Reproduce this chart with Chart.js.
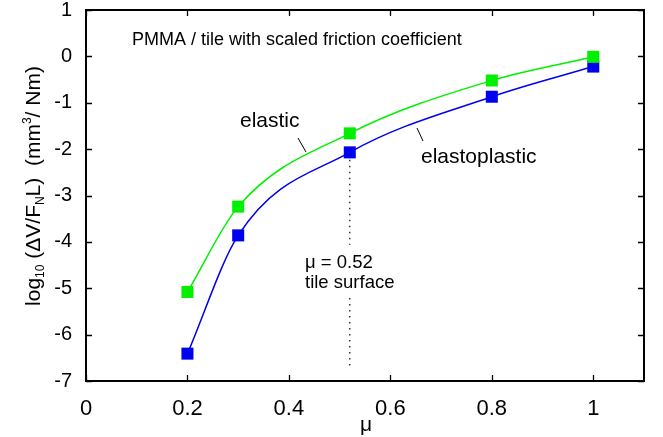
<!DOCTYPE html>
<html>
<head>
<meta charset="utf-8">
<script src="https://cdn.jsdelivr.net/npm/chart.js@4.4.0/dist/chart.umd.min.js"></script>
<style>
  html,body{margin:0;padding:0;background:#fff;}
  #wrap{width:663px;height:437px;position:relative;}
</style>
</head>
<body>
<div id="wrap"><canvas id="c" width="663" height="437"></canvas></div>
<script>
// 數據
const mu            = [0.2, 0.3, 0.52, 0.8, 1.0];
const elastic       = [-5.08, -3.24, -1.66, -0.52, -0.01];
const elastoplastic = [-6.41, -3.86, -2.07, -0.87, -0.22];
const xTicks = [0, 0.2, 0.4, 0.6, 0.8, 1];
const yTicks = [1, 0, -1, -2, -3, -4, -5, -6, -7];
const markMu = 0.52;
const markTop = [-2.23, -4.06];     // 虛線上段
const markBot = [-5.21, -6.72];     // 虛線下段

const FONT = 'Arial, "Liberation Sans", sans-serif';
const pts = ys => mu.map((x,i)=>({x, y:ys[i]}));

// 框線、內向刻度、註解文字
const deco = {
  id:'deco',
  afterDraw(ch){
    const c = ch.ctx, a = ch.chartArea, sx = ch.scales.x, sy = ch.scales.y;
    c.save();
    c.strokeStyle = '#000'; c.lineWidth = 2;
    c.strokeRect(a.left, a.top, a.right-a.left, a.bottom-a.top);
    c.lineWidth = 1.3;
    xTicks.forEach(v=>{
      const px = Math.round(sx.getPixelForValue(v))+0.5;
      c.beginPath(); c.moveTo(px,a.bottom); c.lineTo(px,a.bottom-6);
      c.moveTo(px,a.top); c.lineTo(px,a.top+6); c.stroke();
    });
    yTicks.forEach(v=>{
      const py = Math.round(sy.getPixelForValue(v))+0.5;
      c.beginPath(); c.moveTo(a.left,py); c.lineTo(a.left+6,py);
      c.moveTo(a.right,py); c.lineTo(a.right-6,py); c.stroke();
    });

    // 文字
    c.fillStyle = '#000'; c.textBaseline = 'alphabetic'; c.textAlign = 'left';
    c.font = '18px ' + FONT;
    c.fillText('PMMA / tile with scaled friction coefficient', 132, 45);
    c.font = '21px ' + FONT;
    c.fillText('elastic', 240, 127);
    c.fillText('elastoplastic', 421, 163);
    c.font = '18.5px ' + FONT;
    c.fillText('\u03bc = 0.52', 305, 268);
    c.fillText('tile surface', 305, 288);

    // 引線
    c.lineWidth = 1; c.strokeStyle = '#000';
    c.beginPath(); c.moveTo(298,138); c.lineTo(306,152); c.stroke();
    c.beginPath(); c.moveTo(417,128); c.lineTo(423,141); c.stroke();

    // x 軸標題
    c.font = '21px ' + FONT; c.textAlign = 'center';
    c.fillText('\u03bc', 366, 431);

    // y 軸標題（含上下標）
    const parts = [
      ['log','n'],['10','sub'],[' (\u0394V/F','n'],['N','sub'],['L)  (mm','n'],['3','sup'],['/ Nm)','n']
    ];
    const big = '21px ' + FONT, small = '12px ' + FONT;
    let w = 0;
    parts.forEach(([t,k])=>{ c.font = k==='n'?big:small; w += c.measureText(t).width; });
    c.translate(40, 186); c.rotate(-Math.PI/2);
    let x = -w/2; c.textAlign = 'left';
    parts.forEach(([t,k])=>{
      c.font = k==='n'?big:small;
      const dy = k==='sub'?4:(k==='sup'?-9:0);
      c.fillText(t, x, dy);
      x += c.measureText(t).width;
    });
    c.restore();
  }
};

const line = (data,col)=>({
  data, borderColor:col, backgroundColor:col, borderWidth:1.5,
  pointStyle:'rect', pointRadius:8.5, pointHoverRadius:8.5, pointBorderWidth:0,
  cubicInterpolationMode:'monotone', showLine:true
});

new Chart(document.getElementById('c'),{
  type:'scatter',
  data:{datasets:[
    {data:[{x:markMu,y:markTop[0]},{x:markMu,y:markTop[1]},{x:markMu,y:null},{x:markMu,y:markBot[0]},{x:markMu,y:markBot[1]}],
     showLine:true, spanGaps:false, borderColor:'#000', borderWidth:1.2, borderDash:[1.5,4.5], pointRadius:0, tension:0},
    line(pts(elastic),'#00f000'),
    line(pts(elastoplastic),'#0000f0'),
  ]},
  options:{
    responsive:false, animation:false, devicePixelRatio:1,
    layout:{padding:{top:10,right:19,left:0,bottom:0}},
    plugins:{legend:{display:false},tooltip:{enabled:false}},
    scales:{
      x:{type:'linear', min:0, max:1.1,
         afterBuildTicks:s=>{ s.ticks = xTicks.map(v=>({value:v})); },
         afterFit:s=>{ s.height = 56; s.paddingLeft = 0; s.paddingRight = 0; },
         grid:{display:false, drawTicks:false}, border:{display:false},
         ticks:{color:'#000', padding:15, maxRotation:0, font:{size:22,family:FONT}, callback:v=>String(v)}},
      y:{type:'linear', min:-7, max:1,
         afterBuildTicks:s=>{ s.ticks = yTicks.map(v=>({value:v})); },
         afterFit:s=>{ s.width = 86; s.paddingTop = 0; s.paddingBottom = 0; },
         grid:{display:false, drawTicks:false}, border:{display:false},
         ticks:{color:'#000', padding:14, font:{size:20,family:FONT}, callback:v=>String(v)}}
    }
  },
  plugins:[deco]
});
</script>
</body>
</html>
